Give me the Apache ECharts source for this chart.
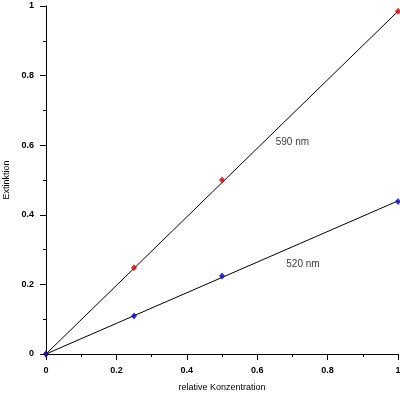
<!DOCTYPE html>
<html><head><meta charset="utf-8">
<script src="https://cdn.jsdelivr.net/npm/echarts@6/dist/echarts.min.js"></script>
<style>html,body{margin:0;padding:0;background:#fff}#c{width:400px;height:393px}</style>
</head><body><div id="c"></div>
<script>
const concentrations = [0, 0.25, 0.5, 1];
const ext590 = [0, 0.248, 0.5, 0.985];
const ext520 = [0, 0.109, 0.224, 0.438];
const fit590 = [[0, 0], [1, 0.985]];
const fit520 = [[0, 0], [1, 0.44]];
const label590 = { x: 0.70, y: 0.609, text: '590 nm' };
const label520 = { x: 0.73, y: 0.259, text: '520 nm' };

const chart = echarts.init(document.getElementById('c'), null, {renderer: 'canvas'});
const font = 'Liberation Sans, Arial, sans-serif';
const axisCommon = {
  min: 0, max: 1, interval: 0.2,
  axisLine: {show: true, onZero: false, lineStyle: {color: '#000', width: 1}},
  axisTick: {show: true, inside: false, length: 6, lineStyle: {color: '#000'}},
  minorTick: {show: true, splitNumber: 2, length: 3, lineStyle: {color: '#000'}},
  splitLine: {show: false},
  axisLabel: {color: '#000', fontFamily: font, fontSize: 9, fontWeight: 'bold', margin: 12,
    formatter: v => String(Math.round(v * 10) / 10)},
  nameTextStyle: {color: '#000', fontFamily: font, fontSize: 9}
};
chart.setOption({
  animation: false,
  grid: {left: 46, right: 2, top: 6, bottom: 39, containLabel: false, outerBoundsMode: 'none'},
  xAxis: Object.assign({}, axisCommon, {type: 'value', name: 'relative Konzentration', nameLocation: 'middle', nameGap: 29}),
  yAxis: Object.assign({}, axisCommon, {type: 'value', name: 'Extinktion', nameLocation: 'middle', nameGap: 33, nameRotate: 90}),
  series: [
    {type: 'line', data: fit590, symbol: 'none', lineStyle: {color: '#000', width: 1}, z: 1, silent: true},
    {type: 'line', data: fit520, symbol: 'none', lineStyle: {color: '#000', width: 1}, z: 1, silent: true},
    {type: 'scatter', data: concentrations.map((c, i) => [c, ext590[i]]), symbol: 'diamond', symbolSize: [6, 7],
      itemStyle: {color: '#d00000'}, z: 3},
    {type: 'scatter', data: concentrations.map((c, i) => [c, ext520[i]]), symbol: 'diamond', symbolSize: [6, 7],
      itemStyle: {color: '#0000c8'}, z: 4},
    {type: 'scatter', data: [[label590.x, label590.y, label590.text], [label520.x, label520.y, label520.text]],
      symbolSize: 0, z: 5,
      label: {show: true, position: 'inside', formatter: p => p.data[2], color: '#000', fontFamily: font, fontSize: 10}}
  ]
});
</script></body></html>
